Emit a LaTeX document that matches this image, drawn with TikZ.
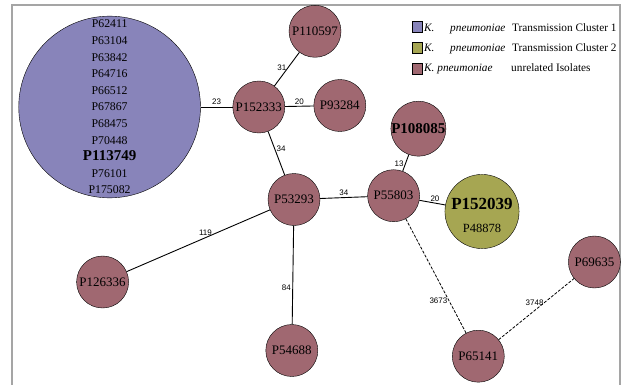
\documentclass[tikz,border=0pt]{standalone}
\usepackage{fontspec}
\setmainfont{Liberation Serif}
\newfontfamily\weightfont{Liberation Sans}
\usepackage{tikz}
\usetikzlibrary{shapes}

\definecolor{clusterone}{RGB}{136,132,186}
\definecolor{clustertwo}{RGB}{166,166,82}
\definecolor{isolate}{RGB}{160,104,113}
\definecolor{framegray}{RGB}{165,165,165}

\begin{document}
\begin{tikzpicture}[x=1pt, y=-1pt,
        node_style/.style={circle,draw=black,fill=isolate,minimum size=52pt,inner sep=0pt,font=\fontsize{13}{14}\selectfont},
        big_node_style/.style={circle,draw=black,fill=clusterone,minimum size=181pt,inner sep=0pt,align=center,font=\fontsize{11.8}{16.6}\selectfont},
        green_node_style/.style={circle,draw=black,fill=clustertwo,minimum size=73pt,inner sep=0pt,align=center,font=\fontsize{12.5}{22.5}\selectfont},
        edge_style/.style={draw=black, line width=0.9pt,-},
        dashed_edge_style/.style={draw=black, line width=0.8pt, dash pattern=on 3pt off 1.5pt,-},
        weight_style/.style={font=\weightfont\fontsize{8}{9}\selectfont, inner sep=1.5pt},
        key_style/.style={draw=black, fill=#1, minimum width=10pt, minimum height=11pt, inner sep=0pt},
        key_text_style/.style={anchor=base west, inner sep=0pt, font=\fontsize{11.3}{13}\selectfont}]

        \useasboundingbox (0,0) rectangle (623,385);
        \draw [framegray, line width=1.5pt] (12,385) -- (12,5) -- (620,5) -- (620,385);

        \node [big_node_style](n1) at (109.6,107) {P62411\\P63104\\P63842\\P64716\\P66512\\P67867\\P68475\\P70448\\{\fontsize{15}{16.6}\selectfont\bfseries P113749}\\P76101\\P175082};
        \node [node_style](n2) at (315,31.3) {P110597};
        \node [node_style](n3) at (258.8,107) {P152333};
        \node [node_style](n4) at (339.8,105.5) {P93284};
        \node [node_style](n5) at (418.4,128.7) {\fontsize{15}{16}\selectfont\bfseries P108085};
        \node [node_style](n6) at (393.6,195.7) {P55803};
        \node [node_style](n7) at (294,199.5) {P53293};
        \node [green_node_style](n8) at (482,211.5) {\rule{0pt}{19pt}{\fontsize{17}{20}\selectfont\bfseries P152039}\\P48878};
        \node [node_style](n9) at (102.6,282) {P126336};
        \node [node_style](n10) at (291.8,350.5) {P54688};
        \node [node_style](n11) at (478.3,356.2) {P65141};
        \node [node_style](n12) at (594.4,262) {P69635};

        \draw [edge_style] (n1) edge node[weight_style, above]{23} (n3);
        \draw [edge_style] (n3) edge node[weight_style, left, pos=0.55]{31} (n2);
        \draw [edge_style] (n3) edge node[weight_style, above]{20} (n4);
        \draw [edge_style] (n3) edge node[weight_style, right, pos=0.4]{34} (n7);
        \draw [edge_style] (n7) edge node[weight_style, above]{34} (n6);
        \draw [edge_style] (n6) edge node[weight_style, left, pos=0.45]{13} (n5);
        \draw [edge_style] (n6) edge node[weight_style, above, pos=0.6]{20} (n8);
        \draw [edge_style] (n7) edge node[weight_style, above, pos=0.45]{119} (n9);
        \draw [edge_style] (n7) edge node[weight_style, left, pos=0.63]{84} (n10);
        \draw [dashed_edge_style] (n6) edge node[weight_style, left, pos=0.72]{3673} (n11);
        \draw [dashed_edge_style] (n11) edge node[weight_style, left, pos=0.6, inner sep=0pt]{3748} (n12);

        % legend
        \node [key_style=clusterone](k1) at (417,27.2) {};
        \node [key_style=clustertwo](k2) at (417,47.5) {};
        \node [key_style=isolate](k3) at (417,68.8) {};
        \node [key_text_style](t1a) at (424,31.1) {\itshape K.};
        \node [key_text_style](t1b) at (450,31.1) {\itshape pneumoniae};
        \node [key_text_style](t1c) at (512,31.1) {Transmission Cluster 1};
        \node [key_text_style](t2a) at (424,51.1) {\itshape K.};
        \node [key_text_style](t2b) at (450,51.1) {\itshape pneumoniae};
        \node [key_text_style](t2c) at (512,51.1) {Transmission Cluster 2};
        \node [key_text_style](t3a) at (424,71.5) {\itshape K. pneumoniae};
        \node [key_text_style](t3c) at (511,71.5) {unrelated Isolates};
\end{tikzpicture}
\end{document}
